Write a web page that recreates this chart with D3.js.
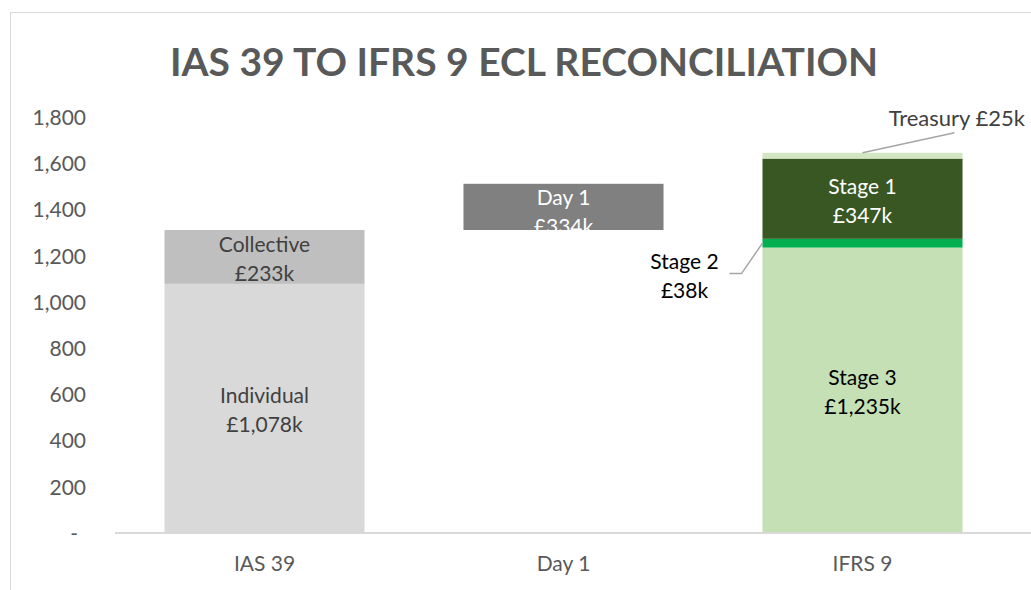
<!DOCTYPE html>
<html>
<head>
<meta charset="utf-8">
<script src="https://cdn.jsdelivr.net/npm/d3@7"></script>
<style>
  body { margin: 0; background: #fff; }
  svg { font-family: Lato, "Open Sans", sans-serif; }
</style>
</head>
<body>
<div id="main"></div>
<script>
// chart data
const categories = ["IAS 39", "Day 1", "IFRS 9"];
const yTicks = [0, 200, 400, 600, 800, 1000, 1200, 1400, 1600, 1800];

// IAS 39 stack
const ias39Parts = ["Individual", "Collective"];
const ias39Values = [1078, 233];
// Day 1 floating bar (hidden base + drawn step, as it appears in the picture)
const day1Base = 1311;
const day1Drawn = 200;
const day1Label = ["Day 1", "£334k"];
// IFRS 9 stack
const ifrs9Parts = ["Stage 3", "Stage 2", "Stage 1", "Treasury"];
const ifrs9Values = [1235, 38, 347, 25];

const labelText = {
  "Individual": ["Individual", "£1,078k"],
  "Collective": ["Collective", "£233k"],
  "Stage 3": ["Stage 3", "£1,235k"],
  "Stage 2": ["Stage 2", "£38k"],
  "Stage 1": ["Stage 1", "£347k"],
  "Treasury": ["Treasury £25k"]
};

const colors = {
  "Individual": "#d9d9d9",
  "Collective": "#bfbfbf",
  "Day 1": "#808080",
  "Stage 3": "#c5e0b4",
  "Stage 2": "#00b050",
  "Stage 1": "#385723",
  "Treasury": "#d2e6c4"
};
const textColors = {
  "Individual": "#404040",
  "Collective": "#404040",
  "Stage 3": "#000000",
  "Stage 1": "#ffffff"
};

const ctx = { width: 1031, height: 590, fontSize: "21px" };

const svg = d3.select("#main").append("svg")
  .attr("width", ctx.width)
  .attr("height", ctx.height);

// chart frame (only top + left edges fall inside the picture)
svg.append("rect")
  .attr("x", 10.5).attr("y", 12.5)
  .attr("width", 1040).attr("height", 600)
  .attr("fill", "none")
  .attr("stroke", "#d9d9d9");

svg.append("text")
  .attr("x", 524).attr("y", 76)
  .attr("text-anchor", "middle")
  .attr("fill", "#595959")
  .style("font-size", "39px")
  .style("font-weight", "bold")
  .text("IAS 39 TO IFRS 9 ECL RECONCILIATION");

const x = d3.scaleBand()
  .domain(categories)
  .range([115, 1012])
  .paddingInner(0.331)
  .paddingOuter(0.1655);

const y = d3.scaleLinear()
  .domain([0, 1800])
  .range([533, 117]);

// y axis labels
const yAxis = svg.append("g")
  .attr("transform", "translate(86,0)")
  .call(d3.axisLeft(y).tickValues(yTicks).tickSize(0).tickPadding(0)
    .tickFormat(d => d === 0 ? "-" : d3.format(",")(d)));
yAxis.select(".domain").remove();
yAxis.selectAll("text")
  .attr("fill", "#595959")
  .style("font-size", ctx.fontSize)
  .style("font-family", "Lato, sans-serif")
  .attr("dy", "0.35em");
yAxis.selectAll(".tick")
  .filter(d => d === 0)
  .select("text")
  .attr("x", -8);

function stack(values, parts) {
  let acc = 0;
  return values.map((v, i) => {
    const s = { key: parts[i], y0: acc, y1: acc + v };
    acc += v;
    return s;
  });
}

const segs = []
  .concat(stack(ias39Values, ias39Parts).map(d => Object.assign(d, { cat: "IAS 39" })))
  .concat([{ key: "Day 1", cat: "Day 1", y0: day1Base, y1: day1Base + day1Drawn }])
  .concat(stack(ifrs9Values, ifrs9Parts).map(d => Object.assign(d, { cat: "IFRS 9" })));

svg.append("g").selectAll("rect")
  .data(segs)
  .enter().append("rect")
  .attr("x", d => x(d.cat))
  .attr("width", x.bandwidth())
  .attr("y", d => y(d.y1))
  .attr("height", d => y(d.y0) - y(d.y1))
  .attr("fill", d => colors[d.key]);

// x axis
const xAxis = svg.append("g")
  .attr("transform", "translate(0,533)")
  .call(d3.axisBottom(x).tickSize(0).tickPadding(23));
xAxis.select(".domain").attr("stroke", "#d9d9d9").attr("stroke-width", 2)
  .attr("d", "M115,0H1031");
xAxis.selectAll("text")
  .attr("fill", "#595959")
  .style("font-size", ctx.fontSize)
  .style("font-family", "Lato, sans-serif");

// labels inside bars
const lineH = 29;
function twoLines(g, lines, cx, cy, color) {
  const t = g.append("text")
    .attr("text-anchor", "middle")
    .attr("fill", color)
    .style("font-size", ctx.fontSize);
  lines.forEach((s, i) => {
    t.append("tspan")
      .attr("x", cx)
      .attr("y", cy + (i - (lines.length - 1) / 2) * lineH)
      .attr("dy", "0.35em")
      .text(s);
  });
  return t;
}

const labels = svg.append("g");
segs.filter(d => textColors[d.key]).forEach(d => {
  const cx = x(d.cat) + x.bandwidth() / 2;
  const cy = (y(d.y0) + y(d.y1)) / 2 + 2;
  twoLines(labels, labelText[d.key], cx, cy, textColors[d.key]);
});

// Day 1 label: white text, lower line runs off the bar onto white
const d1 = segs.find(d => d.key === "Day 1");
twoLines(labels, day1Label, x("Day 1") + x.bandwidth() / 2, (y(d1.y0) + y(d1.y1)) / 2 + 5, "#ffffff");

// callouts with leader lines
const s2 = segs.find(d => d.key === "Stage 2");
const tr = segs.find(d => d.key === "Treasury");
const left = x("IFRS 9");
const mid = x("IFRS 9") + x.bandwidth() / 2;

svg.append("path")
  .attr("d", `M${left},${(y(s2.y0) + y(s2.y1)) / 2} L${left - 21},${y(s2.y0) + 26} H${left - 33}`)
  .attr("fill", "none")
  .attr("stroke", "#a6a6a6")
  .attr("stroke-width", 1.5);
twoLines(labels, labelText["Stage 2"], left - 78, y(s2.y0) + 29, "#000000");

svg.append("path")
  .attr("d", `M${mid},${y(tr.y1)} L${mid + 92},${y(tr.y1) - 20}`)
  .attr("fill", "none")
  .attr("stroke", "#a6a6a6")
  .attr("stroke-width", 1.5);
labels.append("text")
  .attr("x", 1025).attr("y", y(tr.y1) - 35)
  .attr("dy", "0.35em")
  .attr("text-anchor", "end")
  .attr("fill", "#404040")
  .style("font-size", "22px")
  .text(labelText["Treasury"][0]);
</script>
</body>
</html>
